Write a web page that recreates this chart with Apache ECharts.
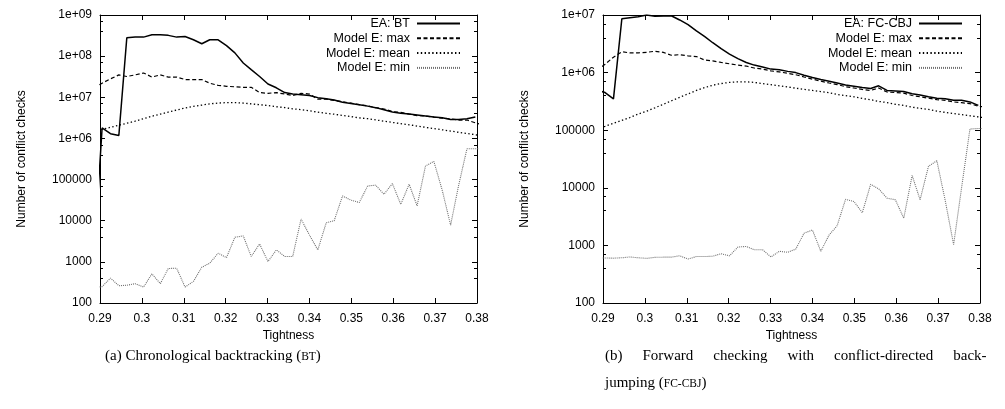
<!DOCTYPE html>
<html><head><meta charset="utf-8">
<script src="https://cdn.jsdelivr.net/npm/echarts@6/dist/echarts.min.js"></script>
<style>html,body{margin:0;padding:0;background:#fff}#c{width:1005px;height:409px}</style>
</head><body><div id="c"></div>
<script>
// Tightness values of the sampled points (first and last fall just outside the axis and are clipped)
const tightness = [0.2885, 0.2905, 0.2925, 0.2945, 0.2964, 0.2984, 0.3004, 0.3024, 0.3044, 0.3063, 0.3083, 0.3103, 0.3123, 0.3143, 0.3162, 0.3182, 0.3202, 0.3222, 0.3242, 0.3261, 0.3281, 0.3301, 0.3321, 0.3341, 0.3360, 0.3380, 0.3400, 0.3420, 0.3440, 0.3459, 0.3479, 0.3499, 0.3519, 0.3539, 0.3558, 0.3578, 0.3598, 0.3618, 0.3638, 0.3657, 0.3677, 0.3697, 0.3717, 0.3737, 0.3756, 0.3776, 0.3796, 0.3816];

// (a) Chronological backtracking
const btEA = [1000, 1.8e6, 1.3e6, 1.18e6, 2.8e8, 2.9e8, 2.9e8, 3.3e8, 3.3e8, 3.2e8, 2.9e8, 3.0e8, 2.5e8, 2.0e8, 2.5e8, 2.5e8, 1.8e8, 1.2e8, 6.8e7, 4.7e7, 3.2e7, 2.1e7, 1.7e7, 1.3e7, 1.2e7, 1.15e7, 1.1e7, 9.8e6, 9.2e6, 8.6e6, 7.6e6, 7.1e6, 6.6e6, 6.1e6, 5.6e6, 5.0e6, 4.4e6, 4.1e6, 3.9e6, 3.7e6, 3.5e6, 3.3e6, 3.2e6, 2.9e6, 2.9e6, 3.0e6, 3.3e6, null];
const btMax = [1.7e7, 2.2e7, 2.8e7, 3.5e7, 3.2e7, 3.5e7, 3.9e7, 3.1e7, 3.5e7, 3.1e7, 3.1e7, 2.7e7, 2.7e7, 2.7e7, 2.2e7, 1.95e7, 1.85e7, 1.8e7, 1.75e7, 1.75e7, 1.3e7, 1.25e7, 1.3e7, 1.2e7, 1.1e7, 1.25e7, 1.2e7, 9.0e6, 9.0e6, 8.4e6, 7.8e6, 7.2e6, 6.6e6, 6.2e6, 5.6e6, 5.2e6, 4.5e6, 4.3e6, 3.9e6, 3.6e6, 3.5e6, 3.3e6, 3.1e6, 3.0e6, 2.8e6, 2.8e6, 2.4e6, 2.1e6];
const btMean = [1.51e6, 1.66e6, 1.86e6, 2.09e6, 2.34e6, 2.63e6, 3.02e6, 3.47e6, 3.89e6, 4.37e6, 4.90e6, 5.50e6, 6.03e6, 6.46e6, 6.92e6, 7.24e6, 7.41e6, 7.41e6, 7.24e6, 6.92e6, 6.61e6, 6.31e6, 5.89e6, 5.62e6, 5.25e6, 5.01e6, 4.68e6, 4.37e6, 4.07e6, 3.89e6, 3.63e6, 3.39e6, 3.16e6, 3.02e6, 2.82e6, 2.63e6, 2.45e6, 2.29e6, 2.14e6, 2.00e6, 1.86e6, 1.74e6, 1.62e6, 1.51e6, 1.41e6, 1.32e6, 1.23e6, 1.15e6];
const btMin = [230, 250, 403, 263, 270, 295, 244, 513, 295, 690, 700, 244, 335, 740, 930, 1620, 1270, 3960, 4270, 1350, 2720, 1020, 1950, 1350, 1350, 11000, 4480, 1950, 8900, 10000, 40000, 31600, 27700, 70000, 73000, 44000, 80000, 25000, 77000, 23000, 214000, 277000, 55000, 7850, 71000, 560000, 560000, 560000];

// (b) Forward checking with conflict-directed backjumping
const fcEA = [500000, 450000, 350000, 8.6e6, 9.0e6, 9.3e6, 1.0e7, 9.5e6, 9.6e6, 9.7e6, 8.2e6, 6.8e6, 5.3e6, 4.2e6, 3.3e6, 2.6e6, 2.1e6, 1.75e6, 1.5e6, 1.35e6, 1.25e6, 1.15e6, 1.12e6, 1.05e6, 1.0e6, 9.0e5, 8.2e5, 7.6e5, 7.1e5, 6.6e5, 6.1e5, 5.8e5, 5.5e5, 5.3e5, 5.9e5, 4.9e5, 4.8e5, 4.7e5, 4.3e5, 4.1e5, 3.8e5, 3.6e5, 3.5e5, 3.3e5, 3.3e5, 3.1e5, 2.7e5, null];
const fcMax = [1.1e6, 1.4e6, 1.85e6, 2.3e6, 2.2e6, 2.2e6, 2.25e6, 2.35e6, 2.25e6, 2.0e6, 2.05e6, 1.95e6, 1.9e6, 1.65e6, 1.6e6, 1.5e6, 1.42e6, 1.35e6, 1.3e6, 1.2e6, 1.15e6, 1.07e6, 1.03e6, 9.7e5, 9.2e5, 8.4e5, 7.7e5, 7.1e5, 6.6e5, 6.2e5, 5.7e5, 5.4e5, 5.1e5, 4.9e5, 5.4e5, 4.6e5, 4.5e5, 4.4e5, 4.0e5, 3.8e5, 3.6e5, 3.4e5, 3.3e5, 3.1e5, 3.0e5, 2.9e5, 2.6e5, 2.5e5];
const fcMean = [1.05e5, 1.17e5, 1.32e5, 1.48e5, 1.66e5, 1.91e5, 2.14e5, 2.45e5, 2.82e5, 3.24e5, 3.72e5, 4.27e5, 4.90e5, 5.50e5, 6.03e5, 6.46e5, 6.76e5, 6.92e5, 6.92e5, 6.76e5, 6.46e5, 6.17e5, 5.89e5, 5.62e5, 5.37e5, 5.13e5, 4.90e5, 4.68e5, 4.47e5, 4.17e5, 3.98e5, 3.80e5, 3.55e5, 3.39e5, 3.16e5, 3.02e5, 2.82e5, 2.69e5, 2.51e5, 2.40e5, 2.29e5, 2.14e5, 2.04e5, 1.95e5, 1.86e5, 1.78e5, 1.70e5, 1.62e5];
const fcMin = [600, 605, 600, 610, 630, 610, 596, 620, 625, 625, 660, 580, 640, 640, 650, 717, 660, 935, 960, 840, 840, 630, 790, 760, 860, 1630, 1850, 790, 1530, 2200, 6300, 5800, 3700, 11500, 9600, 6600, 6200, 2960, 16400, 6200, 23600, 29500, 6000, 1030, 10000, 105000, 107000, 107000];

const xTicks = {min: 0.29, max: 0.38, interval: 0.01};
const legendA = ['EA: BT', 'Model E: max', 'Model E: mean', 'Model E: min'];
const legendB = ['EA: FC-CBJ', 'Model E: max', 'Model E: mean', 'Model E: min'];

const FONT = 'Liberation Sans';
const SERIF = 'Liberation Serif';
const pair = arr => tightness.map((t, i) => [t, arr[i]]);
const yFmt = v => v >= 1e6 ? '1e+0' + Math.round(Math.log10(v)) : String(Math.round(v));

const styles = [
  {type: 'solid', width: 1.5, color: '#000'},
  {type: [4, 2.5], width: 1.2, color: '#000'},
  {type: [1.4, 2.4], width: 1.3, color: '#000'},
  {type: [1, 1], width: 1.1, color: '#707070'}
];

function xAxes(gi) {
  const common = {type: 'value', gridIndex: gi, min: xTicks.min, max: xTicks.max, interval: xTicks.interval,
    axisLine: {show: true, onZero: false, lineStyle: {color: '#000', width: 1}},
    axisTick: {show: true, inside: true, length: 5, lineStyle: {color: '#000'}},
    splitLine: {show: false}};
  return [
    Object.assign({}, common, {position: 'bottom', name: 'Tightness', nameLocation: 'middle', nameGap: 26,
      nameTextStyle: {fontFamily: FONT, fontSize: 12, color: '#000'},
      axisLabel: {fontFamily: FONT, fontSize: 12, color: '#000', margin: 10}}),
    Object.assign({}, common, {position: 'top', axisLabel: {show: false}})
  ];
}
function yAxes(gi, min, max, split) {
  const common = {type: 'log', logBase: 10, gridIndex: gi, min: min, max: max, splitNumber: split,
    axisLine: {show: true, onZero: false, lineStyle: {color: '#000', width: 1}},
    axisTick: {show: true, inside: true, length: 5, lineStyle: {color: '#000'}},
    minorTick: {show: true, splitNumber: 3, length: 3, lineStyle: {color: '#000'}},
    splitLine: {show: false}, minorSplitLine: {show: false}};
  return [
    Object.assign({}, common, {position: 'left', name: 'Number of conflict checks', nameLocation: 'middle', nameRotate: 90, nameGap: 72,
      nameTextStyle: {fontFamily: FONT, fontSize: 12, color: '#000'},
      axisLabel: {fontFamily: FONT, fontSize: 12, color: '#000', margin: 8, formatter: yFmt}}),
    Object.assign({}, common, {position: 'right', axisLabel: {show: false}})
  ];
}
function mkSeries(names, arrs, gi) {
  return names.map((n, i) => ({
    name: n, type: 'line', xAxisIndex: gi * 2, yAxisIndex: gi * 2, data: pair(arrs[i]),
    showSymbol: false, symbol: 'none', clip: true, connectNulls: false, animation: false,
    lineStyle: styles[i], itemStyle: {color: styles[i].color}, z: 10 - i
  }));
}
function legend(names, right) {
  return {data: names, orient: 'vertical', align: 'right', right: right, top: 17, padding: 0,
    itemWidth: 43, itemHeight: 8, itemGap: 1.8, selectedMode: false,
    itemStyle: {opacity: 0, borderWidth: 0},
    textStyle: {fontFamily: FONT, fontSize: 12.5, color: '#000', lineHeight: 12.5, padding: [0, 2, 0, 0]}};
}
const capStyle = {fontFamily: SERIF, fontSize: 15, fontWeight: 'normal', color: '#000',
  rich: {sc: {fontFamily: SERIF, fontSize: 11.5, color: '#000'}, g: {fontFamily: SERIF, fontSize: 15, width: 20}}};

const chart = echarts.init(document.getElementById('c'), null, {renderer: 'canvas'});
chart.setOption({
  animation: false,
  backgroundColor: '#fff',
  grid: [
    {left: 100, top: 15, width: 377, height: 288},
    {left: 603, top: 15, width: 377, height: 288}
  ],
  xAxis: [...xAxes(0), ...xAxes(1)],
  yAxis: [...yAxes(0, 100, 1e9, 7), ...yAxes(1, 100, 1e7, 5)],
  legend: [legend(legendA, 544), legend(legendB, 42)],
  title: [
    {text: '(a) Chronological backtracking ({sc|BT})', left: 105, top: 349, padding: 0, textStyle: capStyle},
    {text: '(b){g| }Forward{g| }checking{g| }with{g| }conflict-directed{g| }back-', left: 605, top: 349, padding: 0, textStyle: capStyle},
    {text: 'jumping ({sc|FC-CBJ})', left: 605, top: 376, padding: 0, textStyle: capStyle}
  ],
  series: [...mkSeries(legendA, [btEA, btMax, btMean, btMin], 0), ...mkSeries(legendB, [fcEA, fcMax, fcMean, fcMin], 1)]
});
</script>
</body></html>
